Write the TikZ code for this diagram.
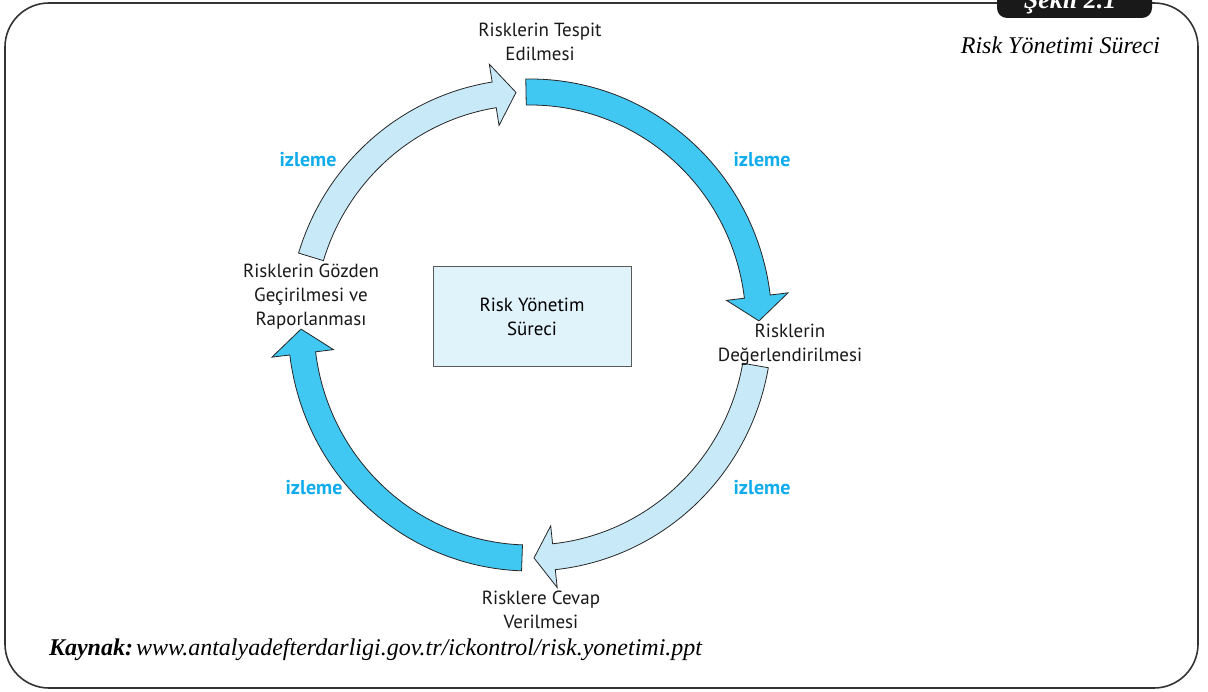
\documentclass[tikz,border=0pt]{standalone}
\usepackage{fontspec}
\setmainfont{Liberation Serif}
\setsansfont{PT Sans}
\usetikzlibrary{positioning}

\definecolor{cyandark}{RGB}{64,199,242}
\definecolor{cyanlight}{RGB}{199,233,248}
\definecolor{boxblue}{RGB}{224,242,250}
\definecolor{izlemeblue}{RGB}{16,172,236}
\definecolor{framegray}{RGB}{51,51,51}

\tikzset{
  frame/.style={draw=framegray, line width=0.8pt, rounded corners=22pt},
  darkarrow/.style={fill=cyandark, draw=black!85, line width=0.4pt, line join=miter},
  lightarrow/.style={fill=cyanlight, draw=black!85, line width=0.4pt, line join=miter},
  steplabel/.style={align=center, text=black!90, font=\sffamily\fontsize{9.5}{12}\selectfont},
  izleme/.style={text=izlemeblue, font=\sffamily\bfseries\fontsize{10}{12}\selectfont},
  centerbox/.style={draw=black!65, fill=boxblue, line width=0.5pt, minimum width=99pt,
    minimum height=50pt, align=center, font=\sffamily\fontsize{9.5}{12}\selectfont}
}

% style, start angle, head angle, tip angle
\newcommand{\cyclearrow}[4]{%
  \filldraw[#1] (#2:242 and 246) arc[start angle=#2, end angle=#3, x radius=242, y radius=246]
    -- (#3:260 and 264) -- (#4:229 and 233) -- (#3:198 and 202)
    -- (#3:216 and 220) arc[start angle=#3, end angle=#2, x radius=216, y radius=220] -- cycle;}

\begin{document}
\begin{tikzpicture}[x=0.5pt,y=0.5pt]
\useasboundingbox (0,0) rectangle (1208,691);

% frame and tab
\draw[frame] (5,3) rectangle (1198,688);
\fill[black!90, rounded corners=5pt] (997,673) rectangle (1152,720);
\node[anchor=base, text=white, font=\bfseries\itshape\fontsize{13}{15}\selectfont] (sekil) at (1070,682) {Şekil 2.1};
\node[anchor=base east, font=\itshape\fontsize{12}{14}\selectfont] (caption) at (1167,637) {Risk Yönetimi Süreci};

% the cycle
\begin{scope}[shift={(530,366)}]
\cyclearrow{darkarrow}{91}{7}{1}
\cyclearrow{lightarrow}{-10}{-84}{-89}
\cyclearrow{darkarrow}{-92}{-173}{-179}
\cyclearrow{lightarrow}{163}{99}{93.5}
\end{scope}

\node[centerbox] (surec) at (532,374) {Risk Yönetim\\Süreci};

\node[steplabel] (tespit) at (540,649) {Risklerin Tespit\\Edilmesi};
\node[steplabel] (deger) at (790,346) {Risklerin\\Değerlendirilmesi};
\node[steplabel] (cevap) at (541,81) {Risklere Cevap\\Verilmesi};
\node[steplabel] (gozden) at (311,394) {Risklerin Gözden\\Geçirilmesi ve\\Raporlanması};

\node[izleme] (izleme1) at (308,531) {izleme};
\node[izleme] (izleme2) at (762,531) {izleme};
\node[izleme] (izleme3) at (762,203) {izleme};
\node[izleme] (izleme4) at (314,203) {izleme};

% source
\node[anchor=base west, font=\itshape\fontsize{12}{14}\selectfont] (kaynak) at (42,36)
  {\textbf{Kaynak:}\hspace{1.5pt}www.antalyadefterdarligi.gov.tr/ickontrol/risk.yonetimi.ppt};
\end{tikzpicture}
\end{document}
